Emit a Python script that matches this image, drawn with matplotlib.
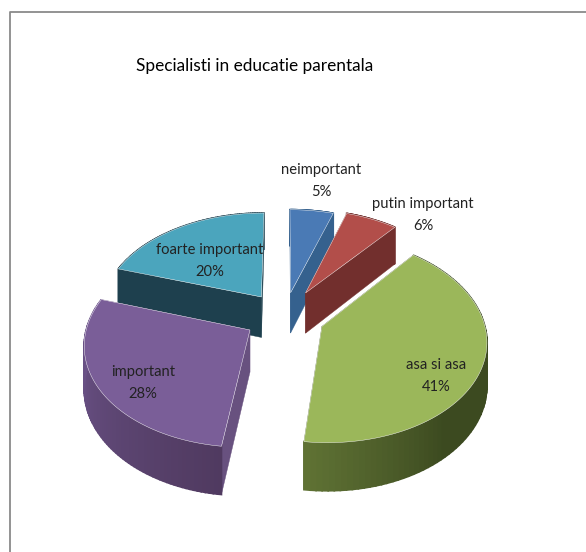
import numpy as np
import matplotlib
matplotlib.use('Agg')
import matplotlib.pyplot as plt

# slices, clockwise from 12 o'clock
labels = ['neimportant', 'putin important', 'asa si asa', 'important', 'foarte important']
values = [5, 6, 41, 28, 20]
title = 'Specialisti in educatie parentala'

top_colors = ['#4a7ab5', '#b24e4a', '#9bb75a', '#7a5e98', '#4ba5bd']
cut_colors = ['#35618e', '#722f2d', '#3c4a20', '#68517f', '#1e404e']
wall_start = ['#35618e', '#722f2d', '#3c4a20', '#503a60', '#1e404e']
wall_end = ['#35618e', '#722f2d', '#5f7234', '#70578f', '#1e404e']
shade_from = [0, 0, 0.68, 0, 0]

label_pos = [(321, 181), (423, 215), (436, 376), (143, 383), (210, 261)]
draw_order = [4, 0, 1, 2, 3]

# pie geometry in pixels
cx, cy = 284.5, 316.5
rx, ry = 161, 99
persp = 8
depth = 41.5
explode = [0.25, 0.28, 0.25, 0.25, 0.25]

plt.rcParams['font.family'] = ['Lato', 'Open Sans', 'DejaVu Sans']

fig = plt.figure(figsize=(5.86, 5.52), dpi=100)
ax = fig.add_axes([0, 0, 1, 1])
ax.set_xlim(0, 586)
ax.set_ylim(552, 0)
ax.axis('off')


def project(x, y, down=0.0):
    s = persp / (persp + y)
    return cx + x * rx * s, cy - y * ry * s + down * depth * s


def mix(c1, c2, t):
    a = np.array(matplotlib.colors.to_rgb(c1))
    b = np.array(matplotlib.colors.to_rgb(c2))
    return tuple(a + (b - a) * t)


# slice angles from the values
total = sum(values)
edges = np.cumsum([0] + values) / total * 2 * np.pi

for n, i in enumerate(draw_order):
    a0, a1 = edges[i], edges[i + 1]
    mid = (a0 + a1) / 2
    ox, oy = explode[i] * np.sin(mid), explode[i] * np.cos(mid)
    t = np.linspace(a0, a1, 80)
    xs = ox + np.sin(t)
    ys = oy + np.cos(t)

    # cut faces
    for a in (a0, a1):
        ex, ey = ox + np.sin(a), oy + np.cos(a)
        pts = [project(ox, oy), project(ex, ey), project(ex, ey, 1), project(ox, oy, 1)]
        ax.fill(*zip(*pts), color=cut_colors[i], lw=0.3, zorder=2 + n * 3)

    # outer wall, shaded in strips
    for k in range(len(t) - 1):
        pts = [project(xs[k], ys[k]), project(xs[k + 1], ys[k + 1]),
               project(xs[k + 1], ys[k + 1], 1), project(xs[k], ys[k], 1)]
        f = k / (len(t) - 2)
        f = max(0, (f - shade_from[i]) / (1 - shade_from[i]))
        ax.fill(*zip(*pts), color=mix(wall_start[i], wall_end[i], f), lw=1.2, zorder=3 + n * 3)

    # top face
    top = [project(ox, oy)] + [project(a, b) for a, b in zip(xs, ys)]
    ax.fill(*zip(*top), color=top_colors[i], ec='white', lw=0.3, zorder=4 + n * 3)

for i in range(len(labels)):
    x, y = label_pos[i]
    ax.text(x, y, labels[i] + '\n' + str(values[i]) + '%', ha='center', va='center',
            fontsize=10.6, color='#222222', linespacing=1.7, zorder=40)

ax.text(255, 66, title, ha='center', va='center', fontsize=12.4, color='black', zorder=40)

# chart frame
ax.plot([10, 10, 586], [552, 12, 12], color='#8a8a8a', lw=1.3, zorder=1)

fig.savefig('out.png', dpi=100)
